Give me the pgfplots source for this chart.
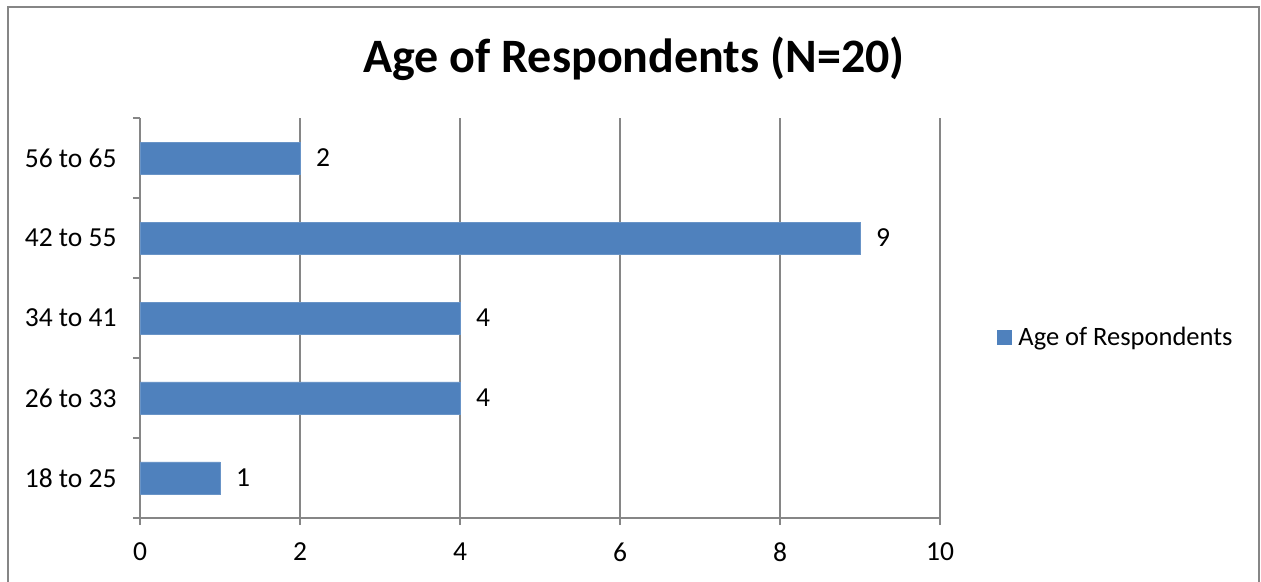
\documentclass[border=0pt]{standalone}
\usepackage{pgfplots}
\pgfplotsset{compat=1.18}
\usepackage{fontspec}
\setmainfont{Carlito}
\definecolor{barblue}{RGB}{79,129,189}
\definecolor{axgrey}{RGB}{134,134,134}
\begin{document}
\begin{tikzpicture}[x=1pt,y=1pt]
\useasboundingbox (0,0) rectangle (1261,581);
\draw[axgrey, line width=1.5pt] (8,-20) -- (8,574) -- (1259,574) -- (1259,-20);
\node[font=\fontsize{48}{56}\selectfont\bfseries, anchor=base, inner sep=0] at (634,508) {Age of Respondents (N=20)};
\begin{axis}[
  at={(140pt,63pt)}, anchor=south west,
  scale only axis, width=800pt, height=400pt,
  xmin=0, xmax=10, ymin=-0.5, ymax=4.5,
  xbar, bar width=32pt,
  axis x line*=bottom, axis y line*=left,
  axis line style={axgrey, line width=1.3pt, -},
  every tick/.style={axgrey, line width=1.3pt},
  tick align=outside, major tick length=7pt,
  xtick={0,2,...,10},
  xmajorgrids, grid style={axgrey, line width=1.3pt},
  ytick={-0.5,0.5,...,4.5}, yticklabels={},
  extra y ticks={0,1,2,3,4},
  extra y tick labels={18 to 25,26 to 33,34 to 41,42 to 55,56 to 65},
  extra y tick style={major tick length=0pt},
  /pgf/number format/assume math mode=true,
  tick label style={font=\fontsize{27.5}{31}\selectfont, text=black},
  yticklabel style={anchor=east, xshift=-20pt},
  xticklabel style={anchor=north, yshift=-14pt},
  point meta=x,
  nodes near coords,
  every node near coord/.append style={anchor=west, inner sep=0pt, xshift=16pt, font=\fontsize{27.5}{31}\selectfont, text=black},
  legend style={at={(1.071,0.4525)}, anchor=west, draw=none, fill=none, inner sep=0pt, font=\fontsize{26.5}{30}\selectfont,
    /tikz/every odd column/.append style={column sep=5pt}},
  legend image code/.code={\fill[barblue] (0pt,-7pt) rectangle (14pt,7pt);},
  clip=false,
]
\addplot[fill=barblue, draw=barblue!85!white] coordinates {(1,0) (4,1) (4,2) (9,3) (2,4)};
\addlegendentry{Age of Respondents}
\end{axis}
\end{tikzpicture}
\end{document}
